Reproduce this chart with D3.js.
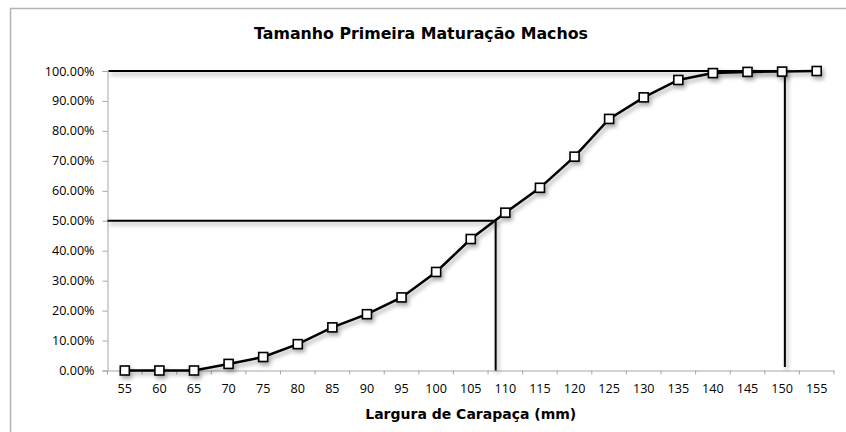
<!DOCTYPE html>
<html><head><meta charset="utf-8">
<script src="https://d3js.org/d3.v7.min.js"></script>
<style>body{margin:0;background:#fff}svg{display:block}</style>
</head><body>
<script>
const categories = [55,60,65,70,75,80,85,90,95,100,105,110,115,120,125,130,135,140,145,150,155];
const values = [0,0,0,0.022,0.045,0.088,0.144,0.188,0.244,0.329,0.439,0.527,0.610,0.714,0.840,0.912,0.970,0.993,0.997,0.998,1.0];
const refL50 = 108.6;
const refL100 = 150.4;
const yTicks = [0,0.1,0.2,0.3,0.4,0.5,0.6,0.7,0.8,0.9,1.0];
const title = "Tamanho Primeira Maturação Machos";
const xTitle = "Largura de Carapaça (mm)";

const W=846,H=432;
const svg=d3.select("body").append("svg").attr("width",W).attr("height",H);
const defs=svg.append("defs");
const f=defs.append("filter").attr("id","sh").attr("x","-20%").attr("y","-20%").attr("width","140%").attr("height","140%");
f.append("feDropShadow").attr("dx",2).attr("dy",3).attr("stdDeviation",2).attr("flood-color","#000").attr("flood-opacity",0.35);

svg.append("rect").attr("x",10.5).attr("y",8.5).attr("width",W).attr("height",H).attr("fill","#fff").attr("stroke","#b3b3b3").attr("stroke-width",1.5);

const L=107.5,R=834,T=71,B=370.5;
const x=d3.scaleBand().domain(categories).range([L,R]);
const xl=d3.scaleLinear().domain([55,155]).range([x(55)+x.bandwidth()/2, x(155)+x.bandwidth()/2]);
const y=d3.scaleLinear().domain([0,1]).range([B,T]);

svg.append("text").attr("x",421).attr("y",39).attr("text-anchor","middle")
  .attr("font-family","DejaVu Sans").attr("font-weight","bold").attr("font-size",15.8).text(title);

const tickFont="Open Sans";
// y axis
const ya=svg.append("g").attr("transform",`translate(${L},0)`)
  .call(d3.axisLeft(y).tickValues(yTicks).tickFormat(d=>(d*100).toFixed(2)+"%").tickSize(5).tickPadding(8));
ya.select(".domain").attr("stroke","#a6a6a6");
ya.selectAll(".tick line").attr("stroke","#a6a6a6");
ya.selectAll("text").attr("font-family",tickFont).attr("font-size",12.6).attr("fill","#000");
// x axis
const xa=svg.append("g").attr("transform",`translate(0,${B})`)
  .call(d3.axisBottom(x).tickSize(0).tickPadding(14));
xa.select(".domain").attr("stroke","#a6a6a6");
xa.selectAll("text").attr("font-family",tickFont).attr("font-size",12.6).attr("fill","#000");
const bounds=categories.map(c=>x(c)).concat([R]);
xa.selectAll(".bt").data(bounds).enter().append("line").attr("class","bt")
  .attr("x1",d=>d).attr("x2",d=>d).attr("y1",0).attr("y2",4).attr("stroke","#a6a6a6");

svg.append("text").attr("x",(L+R)/2).attr("y",419).attr("text-anchor","middle")
  .attr("font-family","DejaVu Sans").attr("font-weight","bold").attr("font-size",14).text(xTitle);

// reference lines
const rg=svg.append("g").attr("filter","url(#sh)").attr("stroke","#000").attr("stroke-width",2).attr("fill","none");
rg.append("line").attr("x1",L+1).attr("x2",xl(refL100)).attr("y1",y(1)).attr("y2",y(1));
rg.append("line").attr("x1",xl(refL100)).attr("x2",xl(refL100)).attr("y1",y(1)).attr("y2",y(0.012));
rg.append("line").attr("x1",L).attr("x2",xl(refL50)).attr("y1",y(0.5)).attr("y2",y(0.5));
rg.append("line").attr("x1",xl(refL50)).attr("x2",xl(refL50)).attr("y1",y(0.5)).attr("y2",y(0));

// series
const sg=svg.append("g").attr("filter","url(#sh)");
const line=d3.line().x((d,i)=>x(categories[i])+x.bandwidth()/2).y(d=>y(d));
sg.append("path").datum(values).attr("d",line).attr("fill","none").attr("stroke","#000").attr("stroke-width",2.5);
sg.selectAll("rect").data(values).enter().append("rect")
  .attr("x",(d,i)=>x(categories[i])+x.bandwidth()/2-4.5).attr("y",d=>y(d)-4.5)
  .attr("width",9).attr("height",9).attr("fill","#fff").attr("stroke","#000").attr("stroke-width",1.6);
</script>
</body></html>
